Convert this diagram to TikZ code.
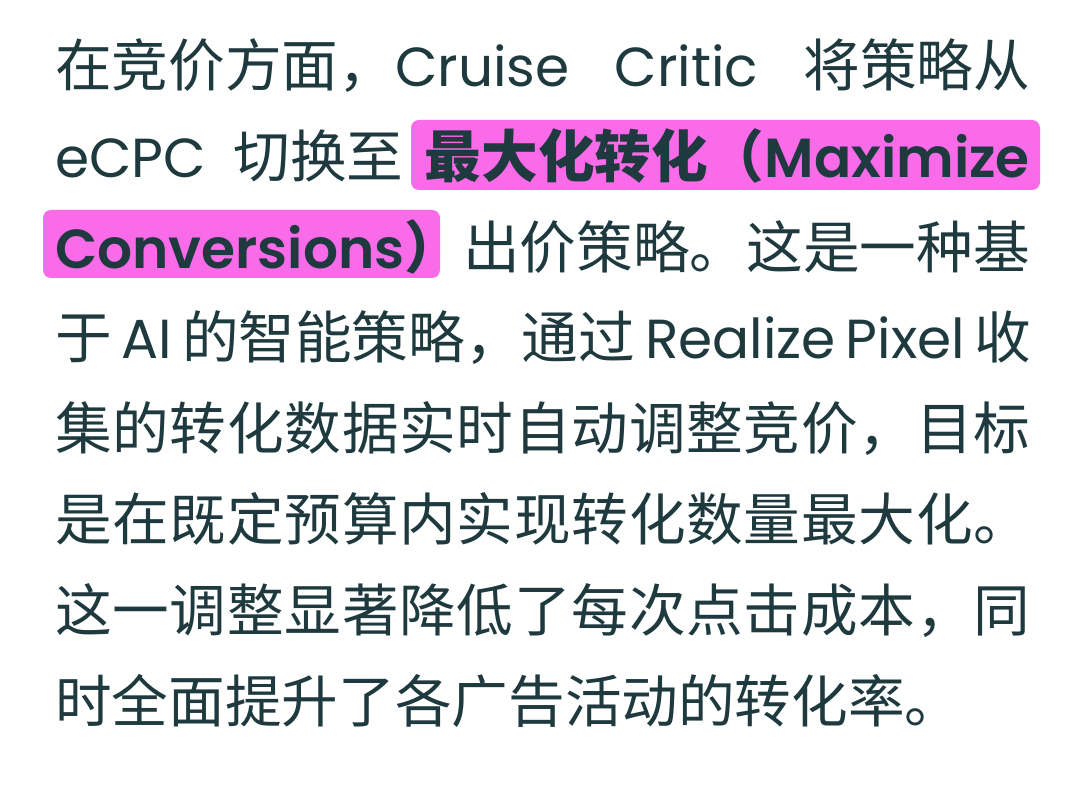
\documentclass[tikz,border=0pt]{standalone}
\usepackage{fontspec}
\setmainfont{Poppins}
\newfontfamily\popsb{Poppins SemiBold}
\newfontfamily\zh[Scale=1.03]{Noto Sans CJK SC}
\definecolor{ink}{HTML}{1F3A3E}
\definecolor{hl}{HTML}{F96BE8}
\def\spreadchars#1{\ifx#1\relax\else#1\hskip 0pt plus 1fil\expandafter\spreadchars\fi}
\newcommand\jline[1]{\hbox to 975pt{\zh\spreadchars#1\relax\unskip}}
\begin{document}
\begin{tikzpicture}[x=1pt,y=1pt,
  ln/.style={anchor=base west, inner sep=0pt, text=ink, font=\fontsize{55}{60}\selectfont},
  lnr/.style={ln, anchor=base east},
  hlbox/.style={fill=hl, rounded corners=8pt}]
\useasboundingbox (0,0) rectangle (1080,795);
\fill[white] (0,0) rectangle (1080,795);
% highlight boxes
\fill[hlbox] (411,605) rectangle (1040,675);
\fill[hlbox] (43,517) rectangle (440,585);
% line 1
\node[ln] (l1) at (55,708) {\hbox to 975pt{{\zh 在竞价方面，}Cruise\hfill Critic\hfill{\zh 将策略从}}};
% line 2
\node[ln] (l2a) at (55,617) {eCPC\hskip 0.5em{\zh 切换至}};
\node[lnr] (l2b) at (1030,617) {{\zh\bfseries 最大化转化（}\popsb Maximize};
% line 3
\node[ln] (l3a) at (55,526) {{\popsb Conversions}{\zh\bfseries ）}};
\node[lnr] (l3b) at (1030,526) {\zh 出价策略。这是一种基};
% line 4
\node[ln] (l4) at (55,436) {\hbox to 975pt{{\zh 于} AI {\zh 的智能策略，通过} Realize Pixel {\zh 收}}};
% lines 5-8
\node[ln] (l5) at (55,345) {\jline{集的转化数据实时自动调整竞价，目标}};
\node[ln] (l6) at (55,254) {\jline{是在既定预算内实现转化数量最大化。}};
\node[ln] (l7) at (55,163) {\jline{这一调整显著降低了每次点击成本，同}};
\node[ln] (l8) at (55,72) {\zh 时全面提升了各广告活动的转化率。};
\end{tikzpicture}
\end{document}
